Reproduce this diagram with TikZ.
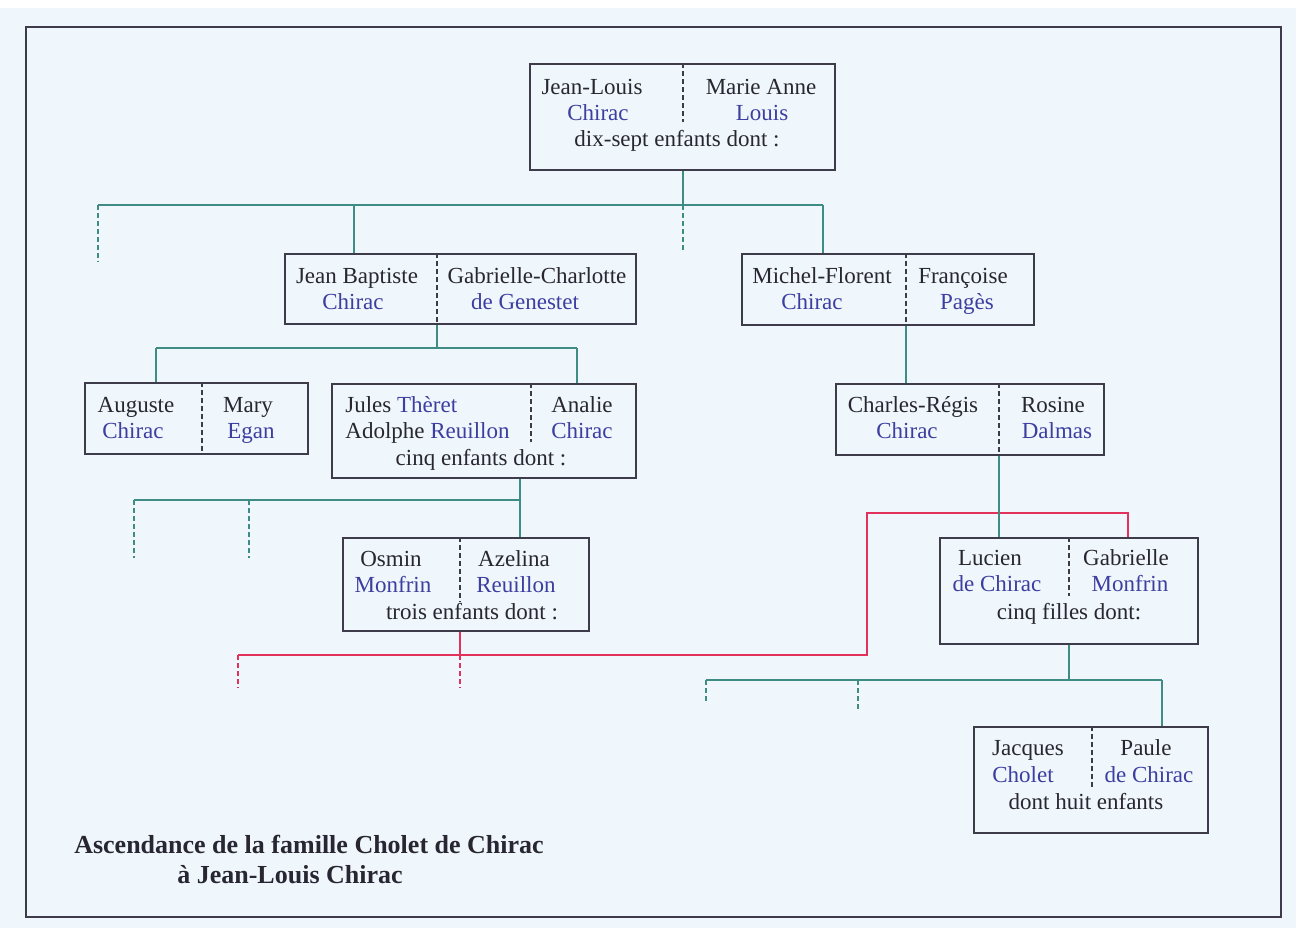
\documentclass[tikz,border=0pt]{standalone}
\usepackage{fontspec}
\setmainfont{Liberation Serif}
\usetikzlibrary{fit}
\definecolor{fond}{RGB}{239,246,252}
\definecolor{encre}{RGB}{40,38,50}
\definecolor{nom}{RGB}{60,62,160}
\definecolor{vert}{RGB}{62,140,132}
\definecolor{rouge}{RGB}{226,50,92}
\definecolor{bord}{RGB}{62,60,74}
\tikzset{
  boite/.style={draw=bord, line width=1pt, inner sep=0pt},
  cadre/.style={draw=bord, line width=1.1pt, inner sep=0pt},
  divis/.style={draw=bord, line width=0.7pt, dash pattern=on 2.5pt off 1.5pt},
  tl/.style={draw=vert, line width=1pt},
  tld/.style={draw=vert, line width=1pt, dash pattern=on 2.5pt off 1.5pt},
  rl/.style={draw=rouge, line width=1pt},
  rld/.style={draw=rouge, line width=1pt, dash pattern=on 2.5pt off 1.5pt},
  txt/.style={inner sep=0pt, anchor=base, yshift=-4pt, text=encre, font=\fontsize{11.5}{13}\selectfont},
  txtn/.style={txt, text=nom},
  titre/.style={inner sep=0pt, anchor=base, yshift=-4pt, text=encre, font=\fontsize{13}{15}\selectfont\bfseries}
}
\begin{document}
\begin{tikzpicture}[x=0.5pt,y=-0.5pt]
\useasboundingbox (0,0) rectangle (1296,928);
\fill[fond] (0,0) rectangle (1296,928);
\fill[white] (0,0) rectangle (1296,8);
% frame
\node[cadre, fit={(26,27) (1281,917)}] (F) {};
% boxes
\node[boite, fit={(530,64) (835,170)}] (T) {};
\node[boite, fit={(285,254) (636,324)}] (JB) {};
\node[boite, fit={(742,254) (1034,325)}] (MF) {};
\node[boite, fit={(85,383) (308,454)}] (AU) {};
\node[boite, fit={(332,384) (636,478)}] (JU) {};
\node[boite, fit={(836,384) (1104,455)}] (CR) {};
\node[boite, fit={(343,538) (589,631)}] (OS) {};
\node[boite, fit={(940,538) (1198,644)}] (LU) {};
\node[boite, fit={(974,727) (1208,833)}] (JA) {};
% dividers
\draw[divis] (T.north -| 683,0) -- (683,122);
\draw[divis] (JB.north -| 437,0) -- (JB.south -| 437,0);
\draw[divis] (MF.north -| 906,0) -- (MF.south -| 906,0);
\draw[divis] (AU.north -| 202,0) -- (AU.south -| 202,0);
\draw[divis] (JU.north -| 531,0) -- (531,442);
\draw[divis] (CR.north -| 999,0) -- (CR.south -| 999,0);
\draw[divis] (OS.north -| 460,0) -- (460,602);
\draw[divis] (LU.north -| 1069,0) -- (1069,596);
\draw[divis] (JA.north -| 1092,0) -- (1092,787);
% connectors level 1
\coordinate (b1L) at (98,205);
\coordinate (b1J) at (354,205);
\coordinate (b1R) at (823,205);
\coordinate (b1e) at (98,262);
\draw[tl] (T.south -| 683,0) -- (683,205);
\draw[tl] (b1L) -- (b1R);
\draw[tld] (b1L) -- (b1e);
\draw[tld] (683,205) -- (683,253);
\draw[tl] (b1J) -- (JB.north -| b1J);
\draw[tl] (b1R) -- (MF.north -| b1R);
% level 2 left
\coordinate (b2L) at (156,348);
\coordinate (b2R) at (577,348);
\draw[tl] (JB.south -| 437,0) -- (437,348);
\draw[tl] (b2L) -- (b2R);
\draw[tl] (b2L) -- (AU.north -| b2L);
\draw[tl] (b2R) -- (JU.north -| b2R);
% level 3 left
\coordinate (b3L) at (134,500);
\coordinate (b3R) at (520,500);
\draw[tl] (JU.south -| b3R) -- (b3R);
\draw[tl] (b3L) -- (b3R);
\draw[tld] (b3L) -- (134,558);
\draw[tld] (249,500) -- (249,558);
\draw[tl] (b3R) -- (OS.north -| b3R);
% red connection
\coordinate (r1) at (460,655);
\coordinate (rL) at (238,655);
\coordinate (rR) at (867,655);
\coordinate (rT) at (867,513);
\coordinate (rT2) at (1128,513);
\draw[rl] (OS.south -| r1) -- (r1);
\draw[rl] (rL) -- (rR) -- (rT) -- (rT2) -- (LU.north -| rT2);
\draw[rld] (rL) -- (238,688);
\draw[rld] (r1) -- (460,688);
% right branch
\draw[tl] (MF.south -| 906,0) -- (CR.north -| 906,0);
\draw[tl] (CR.south -| 999,0) -- (LU.north -| 999,0);
\coordinate (b4L) at (706,680);
\coordinate (b4R) at (1162,680);
\draw[tl] (LU.south -| 1069,0) -- (1069,680);
\draw[tl] (b4L) -- (b4R);
\draw[tld] (b4L) -- (706,703);
\draw[tld] (858,680) -- (858,712);
\draw[tl] (b4R) -- (JA.north -| b4R);
% texts
\node[txt] (T1) at (592,86) {Jean-Louis};
\node[txtn] (T2) at (598,112) {Chirac};
\node[txt] (T3) at (761,86) {Marie Anne};
\node[txtn] (T4) at (762,112) {Louis};
\node[txt] (T5) at (677,138) {dix-sept enfants dont :};
\node[txt] (JB1) at (357,275) {Jean Baptiste};
\node[txtn] (JB2) at (353,301) {Chirac};
\node[txt] (JB3) at (537,275) {Gabrielle-Charlotte};
\node[txtn] (JB4) at (525,301) {de Genestet};
\node[txt] (MF1) at (822,275) {Michel-Florent};
\node[txtn] (MF2) at (812,301) {Chirac};
\node[txt] (MF3) at (963,275) {Françoise};
\node[txtn] (MF4) at (967,301) {Pagès};
\node[txt] (AU1) at (136,404) {Auguste};
\node[txtn] (AU2) at (133,430) {Chirac};
\node[txt] (AU3) at (248,404) {Mary};
\node[txtn] (AU4) at (251,430) {Egan};
\node[txt, anchor=base west] (JU1) at (345,404) {Jules \textcolor{nom}{Thèret}};
\node[txt, anchor=base west] (JU2) at (345,430) {Adolphe \textcolor{nom}{Reuillon}};
\node[txt] (JU3) at (582,404) {Analie};
\node[txtn] (JU4) at (582,430) {Chirac};
\node[txt] (JU5) at (481,457) {cinq enfants dont :};
\node[txt] (CR1) at (913,404) {Charles-Régis};
\node[txtn] (CR2) at (907,430) {Chirac};
\node[txt] (CR3) at (1053,404) {Rosine};
\node[txtn] (CR4) at (1057,430) {Dalmas};
\node[txt] (OS1) at (391,558) {Osmin};
\node[txtn] (OS2) at (393,584) {Monfrin};
\node[txt] (OS3) at (514,558) {Azelina};
\node[txtn] (OS4) at (516,584) {Reuillon};
\node[txt] (OS5) at (472,611) {trois enfants dont :};
\node[txt] (LU1) at (990,557) {Lucien};
\node[txtn] (LU2) at (997,583) {de Chirac};
\node[txt] (LU3) at (1126,557) {Gabrielle};
\node[txtn] (LU4) at (1130,583) {Monfrin};
\node[txt] (LU5) at (1069,611) {cinq filles dont:};
\node[txt] (JA1) at (1028,747) {Jacques};
\node[txtn] (JA2) at (1023,774) {Cholet};
\node[txt] (JA3) at (1146,747) {Paule};
\node[txtn] (JA4) at (1149,774) {de Chirac};
\node[txt] (JA5) at (1086,801) {dont huit enfants};
\node[titre] (TI1) at (309,845) {Ascendance de la famille Cholet de Chirac};
\node[titre] (TI2) at (290,875) {à Jean-Louis Chirac};
\end{tikzpicture}
\end{document}
